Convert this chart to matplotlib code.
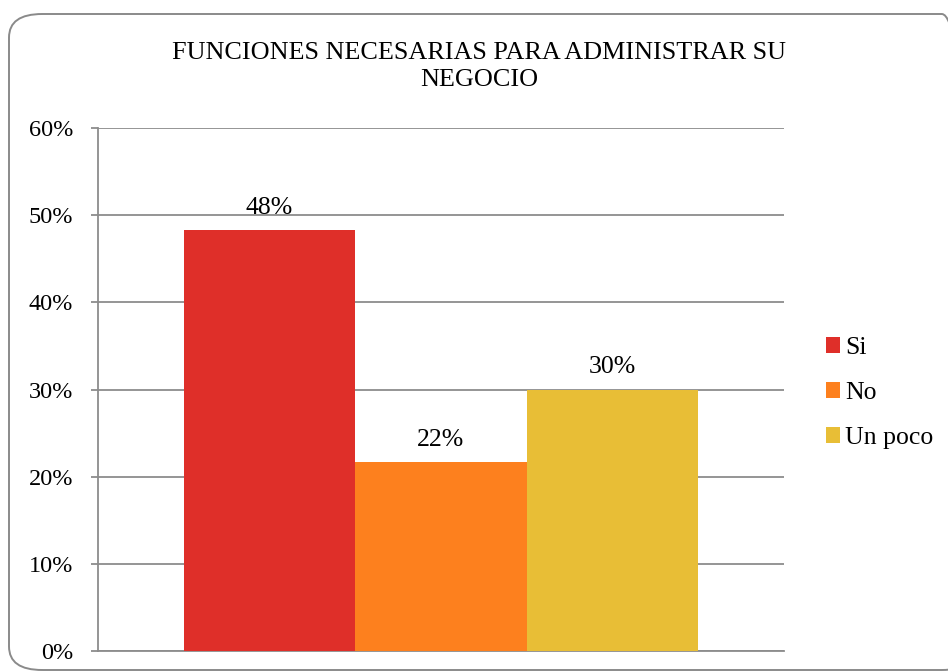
import matplotlib.pyplot as plt
from matplotlib.patches import FancyBboxPatch

plt.rcParams['font.family'] = ['Liberation Serif', 'DejaVu Serif']

# survey answers (respondents per option)
categorias = ['Si', 'No', 'Un poco']
respuestas = [29, 13, 18]
colores = ['#DF2F29', '#FD801E', '#E8BE36']
y_ticks = [0, 0.1, 0.2, 0.3, 0.4, 0.5, 0.6]

total = sum(respuestas)
porcentajes = [r / total for r in respuestas]

W, H = 948, 672
fig = plt.figure(figsize=(W / 100, H / 100), dpi=100)

# rounded chart border
borde = FancyBboxPatch((9 / W, 1 - 670 / H), (975 - 9) / W, (670 - 14) / H,
                       boxstyle='round,pad=0,rounding_size=0.035',
                       transform=fig.transFigure, facecolor='none',
                       edgecolor='#8A8A8A', linewidth=1.4, clip_on=False)
fig.patches.append(borde)

ax = fig.add_axes([98 / W, 1 - 651 / H, 686 / W, (651 - 128) / H])

for i, (cat, val, col) in enumerate(zip(categorias, porcentajes, colores)):
    b = ax.bar(i, val, width=1.0, color=col, label=cat, zorder=3)
    ax.bar_label(b, labels=[f'{val:.0%}'], padding=8, fontsize=18.5, zorder=4)

ax.set_xlim(-1, 3)
ax.set_ylim(0, 0.6)
ax.set_yticks(y_ticks)
ax.set_yticklabels([f'{t:.0%}' for t in y_ticks], fontsize=17.5)
ax.set_xticks([])
ax.yaxis.grid(True, color='#8C8C8C', linewidth=1.3, zorder=0)
ax.tick_params(axis='y', length=5, width=1.3, color='#8C8C8C', pad=13)

for lado in ['top', 'right']:
    ax.spines[lado].set_visible(False)
for lado in ['left', 'bottom']:
    ax.spines[lado].set_color('#8C8C8C')
    ax.spines[lado].set_linewidth(1.3)

fig.text(479 / W, 1 - 42 / H, 'FUNCIONES NECESARIAS PARA ADMINISTRAR SU\nNEGOCIO',
         ha='center', va='top', fontsize=18.8, linespacing=1.3)

fig.legend(loc='center left', bbox_to_anchor=(826 / W, 1 - 393 / H),
           frameon=False, fontsize=18.5, handlelength=0.55, handleheight=0.55,
           handletextpad=0.2, labelspacing=0.9, borderpad=0, borderaxespad=0)

fig.savefig('out.png', dpi=100, facecolor='white')
